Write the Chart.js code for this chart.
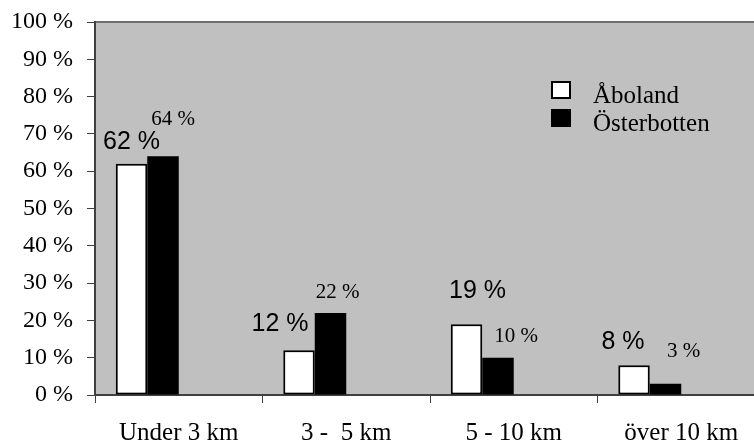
<!DOCTYPE html>
<html lang="sv">
<head>
    <meta charset="UTF-8">
    <meta name="viewport" content="width=device-width, initial-scale=1.0">
    <title>Avstånd</title>
    <style>
        html, body { margin: 0; padding: 0; overflow: hidden; background: #fff; }
        /* the plot area runs a little past the right edge of the window, like the original */
        #wrap { width: 770px; height: 441px; }
    </style>
</head>
<body>
    <div id="wrap">
        <canvas id="myChart"></canvas>
    </div>

    <script src="https://cdn.jsdelivr.net/npm/chart.js"></script>

    <script>
        const categories = ['Under 3 km', '3 -  5 km', '5 - 10 km', 'över 10 km'];
        const aboland = [62, 12, 19, 8];
        const osterbotten = [64, 22, 10, 3];
        const yTicks = [0, 10, 20, 30, 40, 50, 60, 70, 80, 90, 100];

        // hand placed value labels: [dx from bar centre, baseline dy from bar top]
        const aboShift = [[0, -15], [-19, -19], [11, -26], [-11, -16]];
        const ostShift = [[10, -31], [7, -15], [18, -16], [18, -27]];

        const serif = '"Liberation Serif", "Times New Roman", serif';
        const sans = '"Liberation Sans", Arial, sans-serif';

        const plotBg = {
            id: 'plotBg',
            beforeDraw(chart) {
                const { ctx, chartArea: a } = chart;
                ctx.save();
                ctx.fillStyle = '#c0c0c0';
                ctx.fillRect(a.left, a.top, a.right - a.left, a.bottom - a.top);
                ctx.strokeStyle = '#707070';
                ctx.lineWidth = 2;
                ctx.beginPath();
                ctx.moveTo(a.left, a.top);
                ctx.lineTo(a.right, a.top);
                ctx.stroke();
                ctx.restore();
            }
        };

        const valueLabels = {
            id: 'valueLabels',
            afterDatasetsDraw(chart) {
                const ctx = chart.ctx;
                const sets = [
                    { idx: 0, shift: aboShift, font: '25px ' + sans },
                    { idx: 1, shift: ostShift, font: '21px ' + serif }
                ];
                ctx.save();
                ctx.fillStyle = '#000';
                ctx.textAlign = 'center';
                ctx.textBaseline = 'alphabetic';
                sets.forEach(s => {
                    const meta = chart.getDatasetMeta(s.idx);
                    const data = chart.data.datasets[s.idx].data;
                    ctx.font = s.font;
                    meta.data.forEach((bar, i) => {
                        const [dx, dy] = s.shift[i];
                        ctx.fillText(data[i] + ' %', bar.x + dx, bar.y + dy);
                    });
                });
                ctx.restore();
            }
        };

        // legend sits inside the plot area, top right
        const boxLegend = {
            id: 'boxLegend',
            afterDraw(chart) {
                const { ctx, chartArea: a } = chart;
                const x = a.right - 214;
                const y = a.top + 59;
                ctx.save();
                ctx.font = '25px ' + serif;
                ctx.textBaseline = 'alphabetic';
                ctx.textAlign = 'left';
                chart.data.datasets.slice(0, 2).forEach((ds, i) => {
                    const top = y + i * 28;
                    ctx.fillStyle = ds.backgroundColor;
                    ctx.fillRect(x, top, 20, 18);
                    ctx.strokeStyle = '#000';
                    ctx.lineWidth = 2;
                    ctx.strokeRect(x + 1, top + 1, 18, 16);
                    ctx.fillStyle = '#000';
                    ctx.fillText(ds.label, x + 42, top + 22);
                });
                ctx.restore();
            }
        };

        const ctx = document.getElementById('myChart');

        new Chart(ctx, {
            type: 'bar',
            data: {
                labels: categories,
                datasets: [
                    { label: 'Åboland', data: aboland, backgroundColor: '#ffffff', borderColor: '#000', borderWidth: 2, borderSkipped: false },
                    { label: 'Österbotten', data: osterbotten, backgroundColor: '#000000', borderColor: '#000', borderWidth: 0 },
                    // two empty slots so the pair sits left of the category centre, as in the original
                    { label: '', data: [] },
                    { label: '', data: [] }
                ]
            },
            options: {
                responsive: true,
                maintainAspectRatio: false,
                animation: false,
                categoryPercentage: 0.752,
                barPercentage: 1,
                layout: { padding: { top: 22, right: 5, left: 0, bottom: 0 } },
                plugins: {
                    legend: { display: false },
                    tooltip: { enabled: false }
                },
                scales: {
                    x: {
                        grid: { offset: true, drawOnChartArea: false, tickLength: 8, color: '#404040', lineWidth: 1 },
                        border: { color: '#404040', width: 2 },
                        ticks: { color: '#000', font: { family: serif, size: 25 }, padding: 15, maxRotation: 0 },
                        afterFit: s => { s.height = 46; s.paddingLeft = 0; s.paddingRight = 0; }
                    },
                    y: {
                        min: 0,
                        max: 100,
                        grid: { drawOnChartArea: false, tickLength: 8, color: '#404040', lineWidth: 1 },
                        border: { color: '#404040', width: 2 },
                        ticks: {
                            color: '#000',
                            font: { family: serif, size: 24 },
                            padding: 14,
                            callback: v => v + ' %'
                        },
                        afterBuildTicks: s => { s.ticks = yTicks.map(v => ({ value: v })); },
                        afterFit: s => { s.width = 95; s.paddingTop = 0; s.paddingBottom = 0; }
                    }
                }
            },
            plugins: [plotBg, valueLabels, boxLegend]
        });
    </script>
</body>
</html>
